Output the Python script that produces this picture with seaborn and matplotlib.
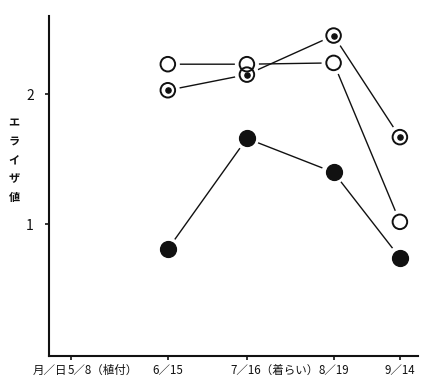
import matplotlib
matplotlib.use("Agg")
import matplotlib.pyplot as plt
import matplotlib.transforms as mtrans
import seaborn as sns
import pandas as pd

# ---- data ----
dates = ["1990-06-15", "1990-07-16", "1990-08-19", "1990-09-14"]
open_vals = [2.23, 2.23, 2.24, 1.02]
dot_vals = [2.03, 2.15, 2.45, 1.67]
filled_vals = [0.81, 1.66, 1.40, 0.745]
tick_dates = ["1990-05-08", "1990-06-15", "1990-07-16", "1990-08-19", "1990-09-14"]
tick_labels = ["5／8（植付）", "6／15", "7／16（着らい）", "8／19", "9／14"]
yticks = [1, 2]
ylabel = "エライザ値"
xprefix = "月／日"

day = list(pd.to_datetime(dates).dayofyear)
tick_days = list(pd.to_datetime(tick_dates).dayofyear)

df = pd.concat([
    pd.DataFrame({"day": day, "val": open_vals, "series": "open"}),
    pd.DataFrame({"day": day, "val": dot_vals, "series": "dot"}),
    pd.DataFrame({"day": day, "val": filled_vals, "series": "filled"}),
])

sns.set_theme(style="white")
plt.rcParams["font.family"] = ["Noto Sans CJK JP", "DejaVu Sans"]

fig = plt.figure(figsize=(4.23, 3.84), dpi=100)
ax = fig.add_axes([49/423, 1-356/384, 369/423, 340/384])

sns.lineplot(data=df, x="day", y="val", units="series", estimator=None,
             color="#111111", linewidth=1.0, ax=ax, legend=False, sort=True)
# white halos to create gaps between lines and markers
sns.scatterplot(data=df, x="day", y="val", s=300, color="white",
                edgecolor="none", ax=ax, legend=False, zorder=3)
op = df[df.series == "open"]
dt = df[df.series == "dot"]
fl = df[df.series == "filled"]
ax.scatter(op.day, op.val, s=110, facecolor="none", edgecolor="#111111",
           linewidth=1.4, zorder=4)
ax.scatter(dt.day, dt.val, s=110, facecolor="none", edgecolor="#111111",
           linewidth=1.4, zorder=4)
ax.scatter(dt.day, dt.val, s=14, color="#111111", zorder=5)
ax.scatter(fl.day, fl.val, s=130, color="#111111", edgecolor="#111111",
           linewidth=1.0, zorder=4)

ax.set_xlim(119.4, 264.1)
ax.set_ylim(-0.01, 2.60)
ax.set_yticks(yticks)
ax.set_yticklabels([str(v) for v in yticks], fontsize=10)
ax.set_xticks(tick_days)
ax.set_xticklabels(tick_labels, fontsize=8.3)
ax.set_xlabel("")
ax.set_ylabel("")

for s in ["top", "right"]:
    ax.spines[s].set_visible(False)
for s in ["left", "bottom"]:
    ax.spines[s].set_linewidth(1.5)
    ax.spines[s].set_color("#111111")
ax.tick_params(axis="both", direction="out", length=3, width=1.2,
               color="#111111", labelcolor="#111111", bottom=True, left=True)
ax.tick_params(axis="y", pad=8)
ax.tick_params(axis="x", pad=3)

labs = ax.get_xticklabels()
offsets = [-3, 0, -16, 0, 0]
for lab, off in zip(labs, offsets):
    if off != 0:
        lab.set_ha("left")
        lab.set_transform(lab.get_transform() +
                          mtrans.ScaledTranslation(off/100, 0, fig.dpi_scale_trans))

fig.text(33/423, 1-370/384, xprefix, fontsize=8.3, ha="left", va="center",
         color="#111111")
fig.text(14/423, 1-160/384, "\n".join(ylabel), fontsize=8, ha="center",
         va="center", linespacing=1.55, color="#111111", fontweight="bold")

fig.savefig("out.png", dpi=100)
